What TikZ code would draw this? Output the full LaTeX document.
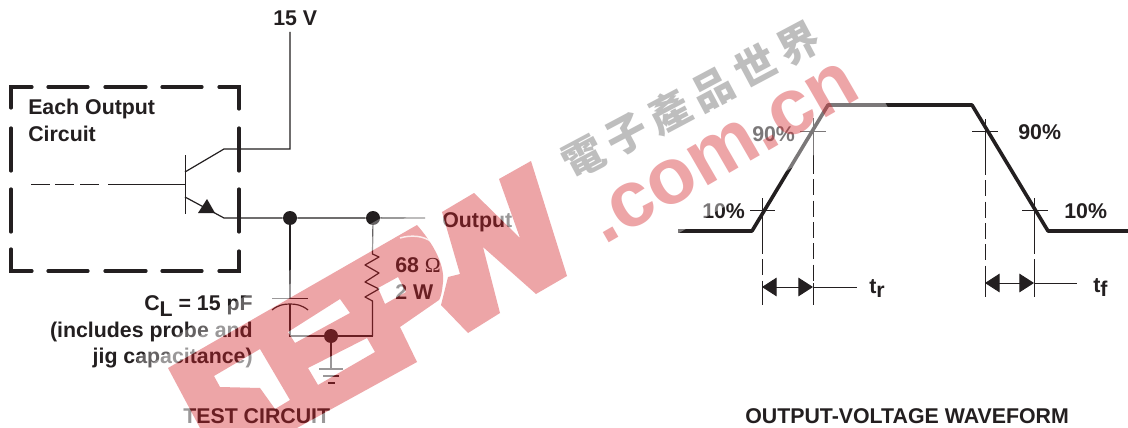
\documentclass[tikz,border=0pt]{standalone}
\usepackage{fontspec}
\setmainfont{Liberation Sans}
\newfontfamily\omfont{Liberation Serif}
\newfontfamily\wmfont[LetterSpace=18]{Noto Sans CJK TC}
\usetikzlibrary{arrows.meta}
\definecolor{ink}{HTML}{231F20}
\definecolor{wmred}{RGB}{210,30,37}
\definecolor{wmgrey}{HTML}{BEBEBE}
\tikzset{
  lb/.style = {inner sep=0pt, text=ink, font=\fontsize{16}{18}\selectfont\bfseries},% bold label
  lbw/.style = {lb, anchor=base west},
  lbe/.style = {lb, anchor=base east},
  jn/.style = {circle, fill=ink, inner sep=0pt, minimum size=10.5pt},% junction dot
  wire/.style = {draw=ink, line width=.9pt},
  fine/.style = {draw=ink, line width=.7pt},
  thick box/.style = {draw=ink, line width=2.4pt, line cap=round},
  wave/.style = {draw=ink, line width=2.7pt, line join=round},
  dimline/.style = {fine, {Triangle[length=11pt,width=14pt]}-{Triangle[length=11pt,width=14pt]}}
}
% outline of the big letters, with their holes
\newcommand{\eepwpath}{(168,368) -- (417,225) .. controls (430,240) and (445,262) .. (443,282)
	.. controls (442,292) and (441,297) .. (439,300) -- (400,327) -- (417,362) -- (297,428) -- (200,428) -- cycle
	(214,376) -- (260,349) -- (290,400) -- (275,409) -- (260,388) -- (220,387) -- cycle
	(288,332) -- (340,299) -- (350,313) -- (295,343) -- cycle
	(308,368) -- (367,338) -- (375,352) -- (318,385) -- cycle
	(378,288) -- (398,277) -- (406,292) -- (385,304) -- cycle
	(442,212) -- (474,193) -- (520,238) -- (499,179) -- (531,161) -- (567,276) -- (536,294) -- (483,247)
	-- (500,313) -- (468,333) -- (441,305) -- (448,277) -- (460,274) -- cycle}

\begin{document}
\begin{tikzpicture}[x=.75pt,y=-.75pt]
\useasboundingbox (0,0) rectangle (1128,428);
\fill[white] (0,0) rectangle (1128,428);

% grey characters of the mark
\node (cjk) [rotate=28, inner sep=0pt, text=wmgrey, font=\fontsize{31}{31}\selectfont\wmfont\bfseries] at (691,100) {電子產品世界};

% dashed box
\draw[thick box] (11,108) -- (11,87) -- (32,87);
\draw[thick box] (219,87) -- (239,87) -- (239,109);
\draw[thick box] (239,251) -- (239,271) -- (219,271);
\draw[thick box] (32,271) -- (11,271) -- (11,249);
\foreach \a/\b in {48/88,105/146,162/202} {
	\draw[thick box] (\a,87) -- (\b,87);
	\draw[thick box] (\a,271) -- (\b,271);
}
\foreach \a/\b in {128/171,189/232} {
	\draw[thick box] (11,\a) -- (11,\b);
	\draw[thick box] (239,\a) -- (239,\b);
}

% transistor
\coordinate (vcc) at (290,32);
\coordinate (cbend) at (290,149);
\coordinate (cknee) at (224,149);
\coordinate (cbase) at (185,172);
\coordinate (ebase) at (185,197);
\coordinate (eknee) at (224,218);
\coordinate (bin) at (108,184.5);
\coordinate (bbase) at (185,184.5);
\draw[wire] (vcc) -- (cbend) -- (cknee) -- (cbase);
\draw[fine] (185,155) -- (185,214);
\draw[fine] (bin) -- (bbase);
\foreach \a/\b in {31/50,55/74,80/99}
	\draw[fine] (\a,184.5) -- (\b,184.5);
\fill[ink] (198,213) -- (215,213) -- (207,199) -- cycle;

% output line and load
\node (j1) [jn] at (290,218) {};
\node (j2) [jn] at (373,218) {};
\node (j3) [jn] at (331,336) {};
\coordinate (out) at (425,218);
\coordinate (capa) at (290,298.5);
\coordinate (capb) at (290,304);
\coordinate (capc) at (290,336);
\coordinate (resb) at (372.5,336);
\draw[wire] (ebase) -- (eknee) -- (j1) -- (j2) -- (out);
\draw[wire] (j1) -- (capa);
\draw[wire] (272,298.5) -- (308,298.5);
\draw[wire] (272,310) .. controls (278,305) and (284,304) .. (capb) .. controls (296,304) and (302,305) .. (308,310);
\draw[wire] (capb) -- (capc) -- (j3) -- (resb);
\draw[wire, line join=round] (j2) -- (372.5,254) -- (379,257) -- (365,265) -- (379,273) -- (365,282) -- (379,289) -- (365,297) -- (372.5,301) -- (resb);
\draw[wire] (j3) -- (331,369);
\draw[wire] (319,369) -- (343,369);
\draw[wire] (323,376) -- (339,376);
\draw[wire] (328,383) -- (335,383);

% waveform
\coordinate (w1) at (678,231);
\coordinate (w2) at (752,231);
\coordinate (w3) at (828,105);
\coordinate (w4) at (972,105);
\coordinate (w5) at (1048,231);
\coordinate (w6) at (1128,231);
\draw[wave] (w1) -- (w2) -- (w3) -- (w4) -- (w5) -- (w6);
\draw[fine] (750,210) -- (775,210);
\draw[fine] (800,131) -- (826,131);
\draw[fine] (972,131) -- (998,131);
\draw[fine] (1022,210) -- (1048,210);
\foreach \x/\y/\z in {762/198/305,813/118/305,985/119/297,1034/198/297} {
	\draw[fine] (\x,\y) -- (\x,\y+40);
	\draw[fine, dash pattern=on 12pt off 4pt] (\x,\y+40) -- (\x,\z-22);
	\draw[fine] (\x,\z-22) -- (\x,\z);
}
\coordinate (ra) at (762,287);
\coordinate (rb) at (813,287);
\coordinate (rc) at (857,287);
\coordinate (fa) at (985,283);
\coordinate (fb) at (1034,283);
\coordinate (fc) at (1077,283);
\draw[dimline] (ra) -- (rb);
\draw[fine] (rb) -- (rc);
\draw[dimline] (fa) -- (fb);
\draw[fine] (fb) -- (fc);

% labels
\node (vlab) [lbw] at (273,26) {15 V};
\node (each) [lbw] at (28,114) {Each Output};
\node (circ) [lbw] at (28,141) {Circuit};
\node (outl) [lbw] at (442,227) {Output};
\node (rval) [lbw] at (395,272) {68 {\omfont\mdseries Ω}};
\node (rpow) [lbw] at (395,299) {2 W};
\node (cval) [lbe] at (253,310) {C\raisebox{-4.5pt}{L} = 15 pF};
\node (cinc) [lbe] at (253,337) {(includes probe and};
\node (cjig) [lbe] at (253,363) {jig capacitance)};
\node (tst) [lbw] at (183,423) {TEST CIRCUIT};
\node (wft) [lbw] at (745,423) {OUTPUT-VOLTAGE WAVEFORM};
\node (p90a) [lbw] at (752,141) {90\%};
\node (p10a) [lbw] at (702,218) {10\%};
\node (p90b) [lbw] at (1018,139) {90\%};
\node (p10b) [lbw] at (1064,218) {10\%};
\node (tr) [lbw] at (869,293) {t\raisebox{-3pt}{r}};
\node (tf) [lbw] at (1093,292) {t\raisebox{-3pt}{f}};

% pale band beside the red letters
\begin{scope}[even odd rule]
	\clip (0,0) rectangle (1128,428) \eepwpath;
	\draw[white, opacity=.3, line width=36pt] \eepwpath;
	\draw[white, opacity=.35, line width=18pt] \eepwpath;
\end{scope}
\fill[white, opacity=.4] (620,267) -- (890,111) -- (855,50) -- (585,206) -- cycle;

% red mark laid over everything
\begin{scope}
	\clip (0,0) rectangle (1128,428);
	\fill[wmred, fill opacity=.4, even odd rule] \eepwpath;
	\draw[white, line width=1.1pt, opacity=.8] (400,238) .. controls (410,235) and (424,235) .. (433,243);
\end{scope}
\node (com) [rotate=30, inner sep=0pt, anchor=base west, text=wmred, text opacity=.4, font=\fontsize{59.5}{60}\selectfont\bfseries] at (604,246) {.com.cn};
\end{tikzpicture}
\end{document}
